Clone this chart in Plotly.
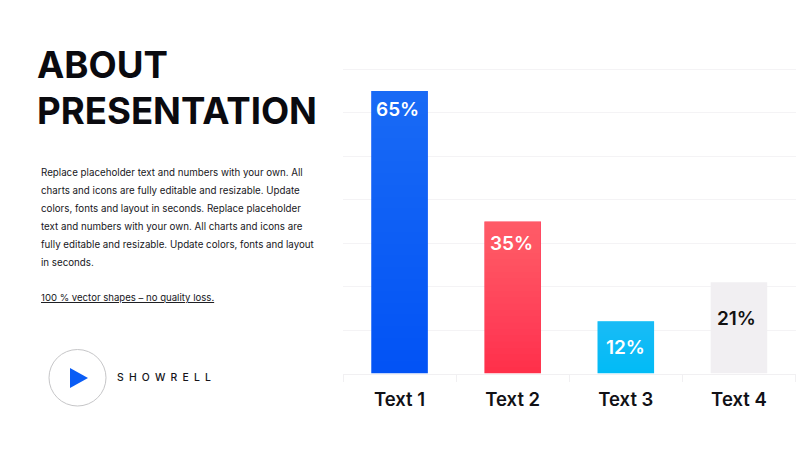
import plotly.graph_objects as go

categories = ["Text 1", "Text 2", "Text 3", "Text 4"]
values = [65, 35, 12, 21]
labels = ["65%", "35%", "12%", "21%"]
bar_colors = ["#0052F5", "#FF2E48", "#00BBF6", "#F1EFF2"]
label_colors = ["#FFFFFF", "#FFFFFF", "#FFFFFF", "#111111"]
label_drops = [18, 22, 26, 36]
label_nudges = [-2, -1, 0, -2]
sheen_strength = [0.20, 0.28, 0.17, 0.0]
title_lines = ["ABOUT", "PRESENTATION"]
body_lines = [
    "Replace placeholder text and numbers with your own. All",
    "charts and icons are fully editable and resizable. Update",
    "colors, fonts and layout in seconds. Replace placeholder",
    "text and numbers with your own. All charts and icons are",
    "fully editable and resizable. Update colors, fonts and layout",
    "in seconds.",
]
note_line = "100 % vector shapes – no quality loss."
brand = "\u2002".join("SHOWRELL")

W, H = 800, 450
FONT = "Inter"

fig = go.Figure()
fig.add_trace(go.Bar(
    x=categories, y=values, width=0.5, marker=dict(color=bar_colors, line=dict(width=0)),
    hoverinfo="x+y", showlegend=False,
))

# translucent white layers: each starts higher up its bar, so the top gets lighter
STEPS = 24
for step in range(STEPS):
    frac = step / STEPS
    bases = [v * frac for v in values]
    heights = [v * (1 - frac) for v in values]
    colors = [f"rgba(255,255,255,{s / STEPS:.4f})" for s in sheen_strength]
    fig.add_trace(go.Bar(
        x=categories, y=heights, base=bases, width=0.5,
        marker=dict(color=colors, line=dict(width=0)),
        hoverinfo="skip", showlegend=False,
    ))

for cat, val, text, col, drop, nudge in zip(categories, values, labels, label_colors, label_drops, label_nudges):
    fig.add_annotation(
        x=cat, y=val, yref="y", xref="x", text=text, showarrow=False, yshift=-drop, xshift=nudge,
        font=dict(family=FONT, size=19, color=col, weight=600),
    )

def px_note(text, x, y, size, color="#16161b", weight=400):
    fig.add_annotation(
        x=x / W, y=1 - y / H, xref="paper", yref="paper", text=text, showarrow=False,
        xanchor="left", yanchor="middle", align="left",
        font=dict(family=FONT, size=size, color=color, weight=weight),
    )

for line, y in zip(title_lines, [65, 111]):
    px_note(line, 35, y, 36.6, "#0a0a0f", 700)
for line, y in zip(body_lines, [172, 190, 208, 226, 244, 262]):
    px_note(line, 38.5, y, 9.75)
px_note(f"<u>{note_line}</u>", 38.5, 297, 9.6)
px_note(brand, 115, 377, 10.4, "#15151a", 500)

def fx(x): return x / W
def fy(y): return 1 - y / H

fig.add_shape(type="circle", xref="paper", yref="paper",
              x0=fx(49), x1=fx(106), y0=fy(349.5), y1=fy(406),
              line=dict(color="#c6c6c8", width=1), fillcolor="rgba(0,0,0,0)")
fig.add_shape(type="path", xref="paper", yref="paper",
              path=f"M {fx(70)} {fy(368)} L {fx(88)} {fy(378)} L {fx(70)} {fy(388)} Z",
              line=dict(width=0), fillcolor="#0A5CF5")

fig.update_layout(
    width=W, height=H, margin=dict(l=0, r=0, t=0, b=0), autosize=False,
    paper_bgcolor="#FFFFFF", plot_bgcolor="#FFFFFF", barmode="overlay", bargap=0.5,
    xaxis=dict(domain=[343 / W, 795.5 / W], type="category", tickson="boundaries",
               ticks="outside", ticklen=7, tickcolor="#F1F0F2", tickwidth=1,
               ticklabelstandoff=9,
               showgrid=False, showline=True, linecolor="#F1F0F2", zeroline=False,
               tickfont=dict(family=FONT, size=18.5, color="#111116", weight=600)),
    yaxis=dict(domain=[1 - 373.5 / H, 1 - 68 / H], range=[0, 70.3], dtick=10,
               showgrid=True, gridcolor="#F4F3F5", gridwidth=1, zeroline=False,
               showticklabels=False, ticks="", showline=False),
)

fig.write_html("out.html", config={"displayModeBar": False},
               post_script="document.body.style.margin='0';document.documentElement.style.margin='0';")
